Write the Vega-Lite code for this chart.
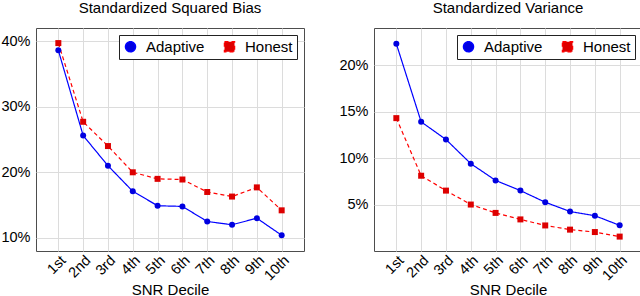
{
  "$schema": "https://vega.github.io/schema/vega-lite/v6.json",
  "padding": 0,
  "bounds": "flush",
  "spacing": 70,
  "config": {
    "font": "Liberation Sans",
    "view": {"stroke": "#4d4d4d", "strokeWidth": 1},
    "axis": {"labelFont": "Liberation Sans", "labelFontSize": 14.5, "labelColor": "#000", "titleFont": "Liberation Sans", "titleFontSize": 15, "titleFontWeight": "normal", "titleColor": "#000", "gridColor": "#dcdcdc", "ticks": false, "domain": false},
    "title": {"font": "Liberation Sans", "fontSize": 15, "fontWeight": "normal", "color": "#000", "offset": 12}
  },
  "resolve": {"scale": {"color": "independent", "fill": "independent", "strokeDash": "independent", "shape": "independent"}, "legend": {"color": "independent"}},
  "datasets": {
    "bias": [
      {"decile": "1st", "series": "Adaptive", "value": 0.386},
      {"decile": "2nd", "series": "Adaptive", "value": 0.256},
      {"decile": "3rd", "series": "Adaptive", "value": 0.210},
      {"decile": "4th", "series": "Adaptive", "value": 0.171},
      {"decile": "5th", "series": "Adaptive", "value": 0.149},
      {"decile": "6th", "series": "Adaptive", "value": 0.148},
      {"decile": "7th", "series": "Adaptive", "value": 0.125},
      {"decile": "8th", "series": "Adaptive", "value": 0.120},
      {"decile": "9th", "series": "Adaptive", "value": 0.130},
      {"decile": "10th", "series": "Adaptive", "value": 0.104},
      {"decile": "1st", "series": "Honest", "value": 0.397},
      {"decile": "2nd", "series": "Honest", "value": 0.277},
      {"decile": "3rd", "series": "Honest", "value": 0.240},
      {"decile": "4th", "series": "Honest", "value": 0.200},
      {"decile": "5th", "series": "Honest", "value": 0.190},
      {"decile": "6th", "series": "Honest", "value": 0.189},
      {"decile": "7th", "series": "Honest", "value": 0.170},
      {"decile": "8th", "series": "Honest", "value": 0.163},
      {"decile": "9th", "series": "Honest", "value": 0.177},
      {"decile": "10th", "series": "Honest", "value": 0.142}
    ],
    "variance": [
      {"decile": "1st", "series": "Adaptive", "value": 0.223},
      {"decile": "2nd", "series": "Adaptive", "value": 0.139},
      {"decile": "3rd", "series": "Adaptive", "value": 0.120},
      {"decile": "4th", "series": "Adaptive", "value": 0.094},
      {"decile": "5th", "series": "Adaptive", "value": 0.076},
      {"decile": "6th", "series": "Adaptive", "value": 0.065},
      {"decile": "7th", "series": "Adaptive", "value": 0.0525},
      {"decile": "8th", "series": "Adaptive", "value": 0.0425},
      {"decile": "9th", "series": "Adaptive", "value": 0.038},
      {"decile": "10th", "series": "Adaptive", "value": 0.0276},
      {"decile": "1st", "series": "Honest", "value": 0.143},
      {"decile": "2nd", "series": "Honest", "value": 0.081},
      {"decile": "3rd", "series": "Honest", "value": 0.065},
      {"decile": "4th", "series": "Honest", "value": 0.050},
      {"decile": "5th", "series": "Honest", "value": 0.041},
      {"decile": "6th", "series": "Honest", "value": 0.034},
      {"decile": "7th", "series": "Honest", "value": 0.0275},
      {"decile": "8th", "series": "Honest", "value": 0.023},
      {"decile": "9th", "series": "Honest", "value": 0.0204},
      {"decile": "10th", "series": "Honest", "value": 0.0155}
    ]
  },
  "hconcat": [
    {
      "width": 268, "height": 223,
      "title": "Standardized Squared Bias",
      "data": {"name": "bias"},
      "encoding": {
        "x": {"field": "decile", "type": "ordinal", "sort": ["1st","2nd","3rd","4th","5th","6th","7th","8th","9th","10th"], "scale": {"type": "point", "padding": 0.9},
          "axis": {"title": "SNR Decile", "labelAngle": -45, "labelAlign": "right", "labelBaseline": "top", "labelPadding": 2, "grid": true, "titleY": 43, "titleBaseline": "alphabetic"}},
        "y": {"field": "value", "type": "quantitative", "scale": {"domain": [0.08, 0.42], "nice": false, "zero": false},
          "axis": {"title": null, "values": [0.1, 0.2, 0.3, 0.4], "format": ".0%", "labelPadding": 6, "grid": true}}
      },
      "layer": [
        {"mark": {"type": "line", "strokeWidth": 1.2},
         "encoding": {
           "color": {"field": "series", "type": "nominal", "scale": {"domain": ["Adaptive", "Honest"], "range": ["#0000ff", "#ff0000"]},
             "legend": {"title": null, "orient": "top-right", "offset": 7, "direction": "horizontal", "fillColor": "white", "strokeColor": "#222", "padding": 4, "symbolSize": 100, "labelFontSize": 15, "labelOffset": 8, "columnPadding": 16, "labelColor": "#000"}},
           "strokeDash": {"field": "series", "type": "nominal", "scale": {"domain": ["Adaptive", "Honest"], "range": [[1, 0], [4, 3]]}, "legend": null}
         }},
        {"mark": {"type": "point", "filled": true, "opacity": 1},
         "encoding": {
           "fill": {"field": "series", "type": "nominal", "scale": {"domain": ["Adaptive", "Honest"], "range": ["#0000e0", "#dd0000"]}, "legend": null},
           "shape": {"field": "series", "type": "nominal", "scale": {"domain": ["Adaptive", "Honest"], "range": ["circle", "square"]}, "legend": null},
           "size": {"value": 36}
         }}
      ]
    },
    {
      "width": 268, "height": 223,
      "title": "Standardized Variance",
      "data": {"name": "variance"},
      "encoding": {
        "x": {"field": "decile", "type": "ordinal", "sort": ["1st","2nd","3rd","4th","5th","6th","7th","8th","9th","10th"], "scale": {"type": "point", "padding": 0.9},
          "axis": {"title": "SNR Decile", "labelAngle": -45, "labelAlign": "right", "labelBaseline": "top", "labelPadding": 2, "grid": true, "titleY": 43, "titleBaseline": "alphabetic"}},
        "y": {"field": "value", "type": "quantitative", "scale": {"domain": [0, 0.24], "nice": false, "zero": false},
          "axis": {"title": null, "values": [0.05, 0.1, 0.15, 0.2], "format": ".0%", "labelPadding": 6, "grid": true}}
      },
      "layer": [
        {"mark": {"type": "line", "strokeWidth": 1.2},
         "encoding": {
           "color": {"field": "series", "type": "nominal", "scale": {"domain": ["Adaptive", "Honest"], "range": ["#0000ff", "#ff0000"]},
             "legend": {"title": null, "orient": "top-right", "offset": 7, "direction": "horizontal", "fillColor": "white", "strokeColor": "#222", "padding": 4, "symbolSize": 100, "labelFontSize": 15, "labelOffset": 8, "columnPadding": 16, "labelColor": "#000"}},
           "strokeDash": {"field": "series", "type": "nominal", "scale": {"domain": ["Adaptive", "Honest"], "range": [[1, 0], [4, 3]]}, "legend": null}
         }},
        {"mark": {"type": "point", "filled": true, "opacity": 1},
         "encoding": {
           "fill": {"field": "series", "type": "nominal", "scale": {"domain": ["Adaptive", "Honest"], "range": ["#0000e0", "#dd0000"]}, "legend": null},
           "shape": {"field": "series", "type": "nominal", "scale": {"domain": ["Adaptive", "Honest"], "range": ["circle", "square"]}, "legend": null},
           "size": {"value": 36}
         }}
      ]
    }
  ]
}
